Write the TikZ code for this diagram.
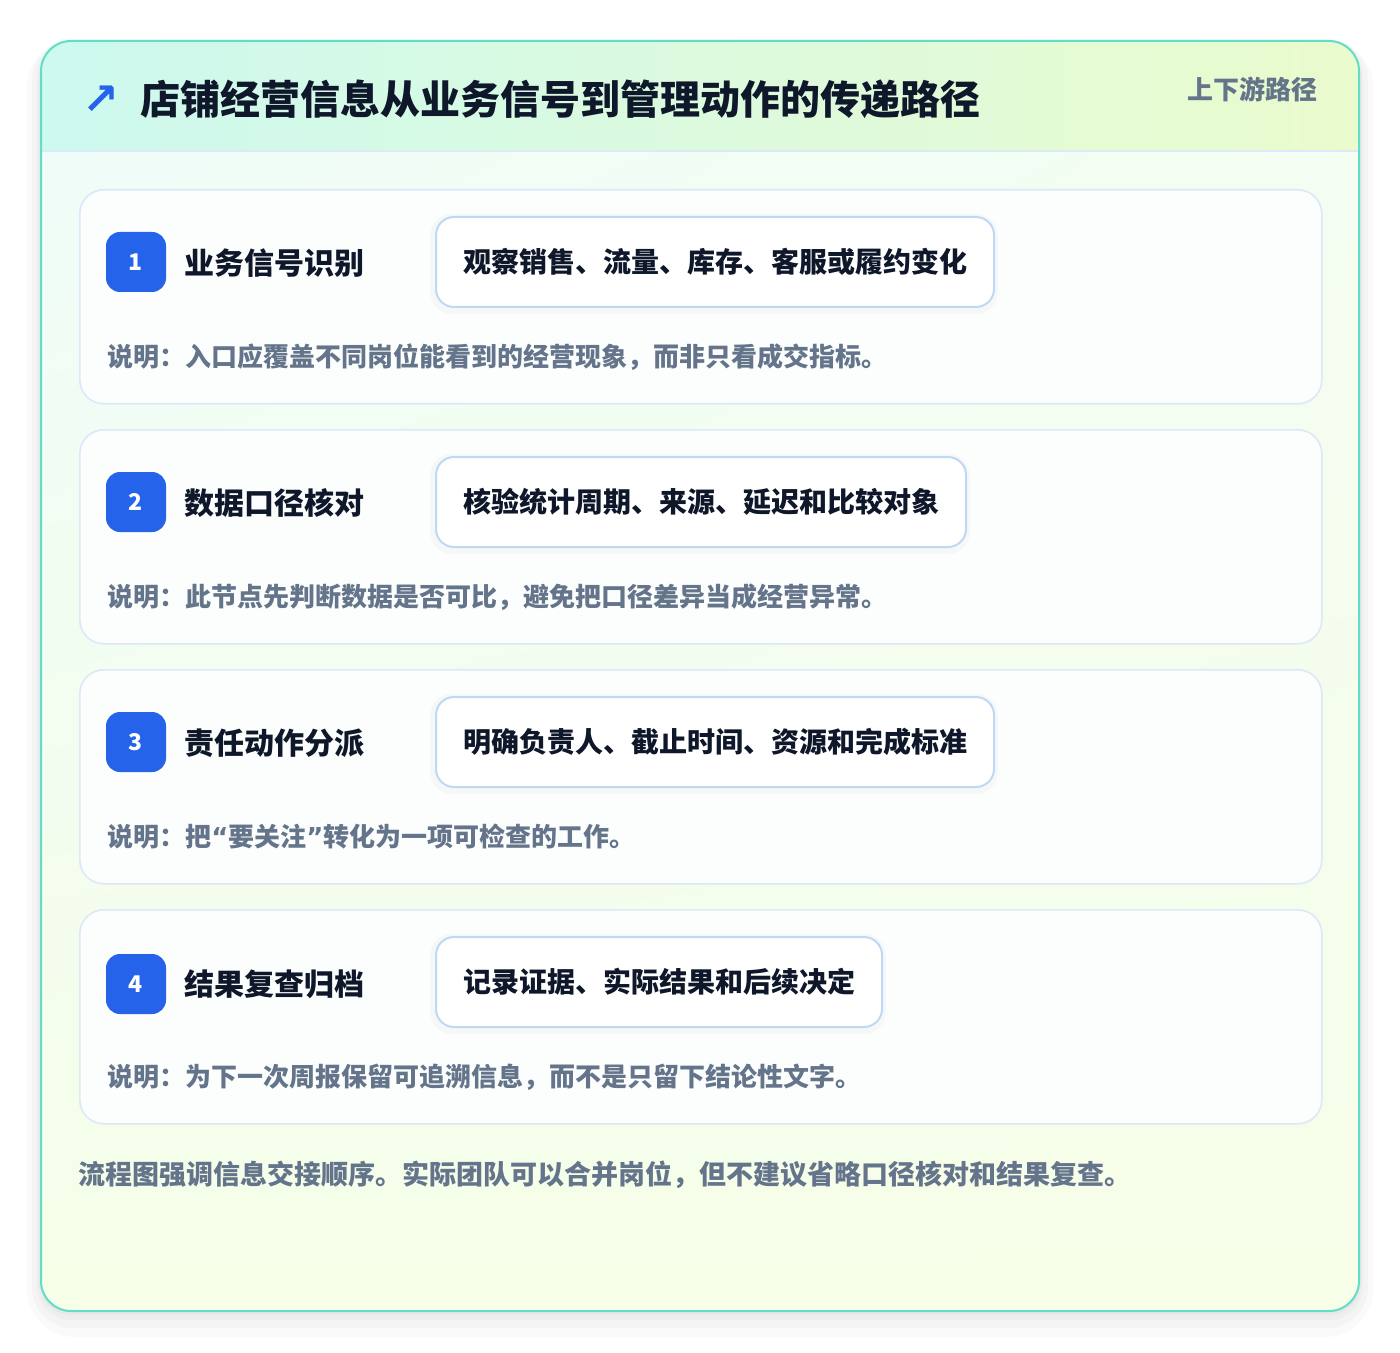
\documentclass[tikz,border=0pt]{standalone}
\usepackage{fontspec}
\setmainfont{Noto Sans CJK SC}
\newfontfamily\arrfont{DejaVu Sans}
\usetikzlibrary{shadings}
\definecolor{mint}{HTML}{62DDC8}
\definecolor{hdrleft}{HTML}{CDF9EF}
\definecolor{hdrright}{HTML}{EAFBCD}
\definecolor{bodytop}{HTML}{EFFCF9}
\definecolor{bodyright}{HTML}{F3FDF2}
\definecolor{bodybottom}{HTML}{F6FEE8}
\definecolor{hdrline}{HTML}{DCE9F6}
\definecolor{cardline}{HTML}{DCE8F8}
\definecolor{cardfill}{HTML}{FCFEFD}
\definecolor{boxline}{HTML}{BFD8F5}
\definecolor{badgeblue}{HTML}{2563EB}
\definecolor{ink}{HTML}{0F172A}
\definecolor{slate}{HTML}{64748B}
\newcommand{\openq}{{\arrfont\bfseries “}}
\newcommand{\closeq}{{\arrfont\bfseries ”}}
\begin{document}
\begin{tikzpicture}[x=0.5pt, y=-0.5pt,
    stepcard/.style={draw=cardline, line width=0.8pt, fill=cardfill, rounded corners=12pt,
      minimum width=621pt, minimum height=107pt, anchor=north west, inner sep=0pt},
    badge/.style={fill=badgeblue, rounded corners=7pt, minimum size=30pt, inner sep=0pt,
      text=white, font=\bfseries\fontsize{11.5pt}{13pt}\selectfont},
    steptitle/.style={anchor=west, inner sep=0pt, text=ink, font=\bfseries\fontsize{15pt}{18pt}\selectfont},
    detail/.style={anchor=west, draw=boxline, line width=1pt, fill=white, rounded corners=9pt,
      minimum height=45pt, inner xsep=13.5pt, inner ysep=0pt, text=ink,
      font=\bfseries\fontsize{14pt}{17pt}\selectfont},
    boxshadow/.style={fill=black, opacity=0.025, rounded corners=11pt},
    note/.style={anchor=west, inner sep=0pt, text=slate, font=\bfseries\fontsize{13pt}{16pt}\selectfont}]
  \fill[white] (0,0) rectangle (1400,1352);
  \useasboundingbox (0,0) rectangle (1400,1352);
  \fill[black, opacity=0.018, rounded corners=24pt] (27,39) rectangle (1373,1337);
  \fill[black, opacity=0.022, rounded corners=20pt] (32,41) rectangle (1368,1328);
  \fill[black, opacity=0.025, rounded corners=17pt] (37,43) rectangle (1363,1320);
  \fill[black, opacity=0.025, rounded corners=16pt] (39,45) rectangle (1361,1315);
  \shade[rounded corners=15pt, upper left=bodytop, upper right=bodyright, lower left=bodybottom, lower right=bodybottom]
    (41,41) rectangle (1359,1311);
  \begin{scope}
    \clip[rounded corners=15pt] (41,41) rectangle (1359,1311);
    \shade[left color=hdrleft, right color=hdrright] (41,41) rectangle (1359,151);
    \draw[hdrline, line width=1pt] (41,151) -- (1359,151);
  \end{scope}
  \draw[mint, line width=1pt, rounded corners=15pt] (41,41) rectangle (1359,1311);

  \node[anchor=center, inner sep=0pt, text=badgeblue, font=\arrfont\bfseries\fontsize{22pt}{24pt}\selectfont] (icon) at (101,100) {↗};
  \node[anchor=west, inner sep=0pt, text=ink, font=\bfseries\fontsize{20pt}{24pt}\selectfont] (title) at (140,99) {店铺经营信息从业务信号到管理动作的传递路径};
  \node[anchor=east, inner sep=0pt, text=slate, font=\bfseries\fontsize{13pt}{16pt}\selectfont] (tag) at (1318,89) {上下游路径};

  \node[stepcard] (card1) at (79,189) {};
  \node[badge] (badge1) at (136,262) {1};
  \node[steptitle] (name1) at (184,263) {业务信号识别};
  \fill[boxshadow] (430,214) rectangle (998,314);
  \node[detail] (box1) at (435,262) {观察销售、流量、库存、客服或履约变化};
  \node[note] (note1) at (107,357) {说明：入口应覆盖不同岗位能看到的经营现象，而非只看成交指标。};

  \node[stepcard] (card2) at (79,429) {};
  \node[badge] (badge2) at (136,502) {2};
  \node[steptitle] (name2) at (184,503) {数据口径核对};
  \fill[boxshadow] (430,454) rectangle (970,554);
  \node[detail] (box2) at (435,502) {核验统计周期、来源、延迟和比较对象};
  \node[note] (note2) at (107,597) {说明：此节点先判断数据是否可比，避免把口径差异当成经营异常。};

  \node[stepcard] (card3) at (79,669) {};
  \node[badge] (badge3) at (136,742) {3};
  \node[steptitle] (name3) at (184,743) {责任动作分派};
  \fill[boxshadow] (430,694) rectangle (998,794);
  \node[detail] (box3) at (435,742) {明确负责人、截止时间、资源和完成标准};
  \node[note] (note3) at (107,837) {说明：把\openq 要关注\closeq 转化为一项可检查的工作。};

  \node[stepcard] (card4) at (79,909) {};
  \node[badge] (badge4) at (136,984) {4};
  \node[steptitle] (name4) at (184,984) {结果复查归档};
  \fill[boxshadow] (430,934) rectangle (886,1034);
  \node[detail] (box4) at (435,982) {记录证据、实际结果和后续决定};
  \node[note] (note4) at (107,1077) {说明：为下一次周报保留可追溯信息，而不是只留下结论性文字。};

  \node[anchor=west, inner sep=0pt, text=slate, font=\bfseries\fontsize{13.5pt}{16pt}\selectfont] (footer) at (78,1175)
    {流程图强调信息交接顺序。实际团队可以合并岗位，但不建议省略口径核对和结果复查。};
\end{tikzpicture}
\end{document}
